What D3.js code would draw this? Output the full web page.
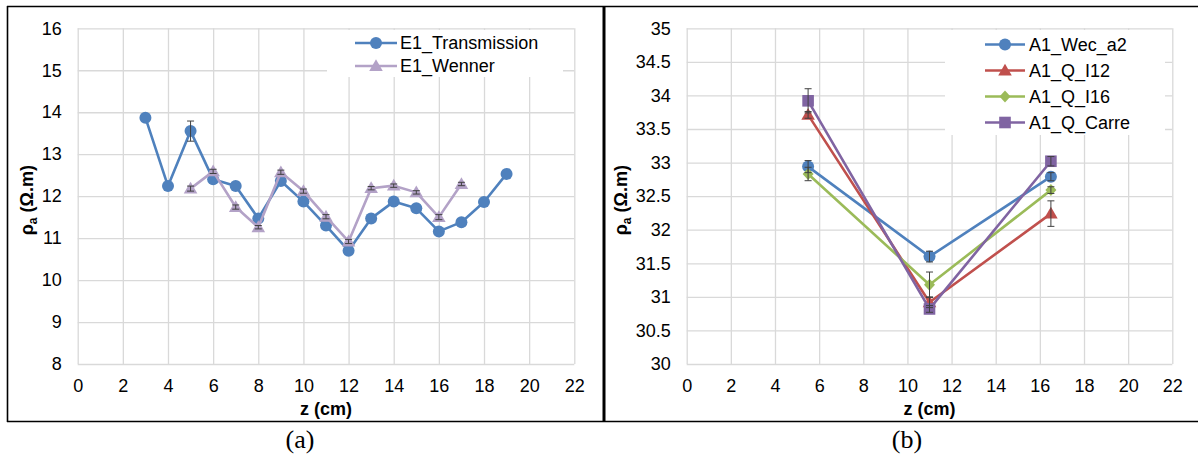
<!DOCTYPE html>
<html><head><meta charset="utf-8">
<script src="https://cdn.jsdelivr.net/npm/d3@7"></script>
<style>
html,body{margin:0;padding:0;background:#fff;}
text{font-family:"Liberation Sans",Arial,sans-serif;}
text.cap{font-family:"Liberation Serif","Times New Roman",serif;}
</style></head>
<body>
<svg id="c" width="1198" height="459"></svg>
<script>
// ---------- data ----------
const xTicks = [0,2,4,6,8,10,12,14,16,18,20,22];
const leftYTicks = [8,9,10,11,12,13,14,15,16];
const rightYTicks = [30,30.5,31,31.5,32,32.5,33,33.5,34,34.5,35];

const transZ = [3,4,5,6,7,8,9,10,11,12,13,14,15,16,17,18,19];
const transmission = [13.87,12.24,13.55,12.40,12.24,11.47,12.36,11.87,11.30,10.70,11.47,11.87,11.71,11.16,11.38,11.86,12.53];
const transErr = [0,0,0.24,0,0,0,0,0,0,0,0,0,0,0,0,0,0];

const wennerZ = [5,6,7,8,9,10,11,12,13,14,15,16,17];
const wenner = [12.18,12.59,11.74,11.26,12.57,12.12,11.51,10.92,12.19,12.25,12.09,11.50,12.29];
const wennerErr = [0.06,0.05,0.05,0.04,0.05,0.05,0.05,0.05,0.04,0.04,0.04,0.06,0.04];

const zRight = [5.5, 11, 16.5];
const wecA2 = [32.94, 31.60, 32.79];
const wecA2Err = [0.09, 0.08, 0.06];
const qI12 = [33.71, 30.92, 32.24];
const qI12Err = [0.05, 0.08, 0.19];
const qI16 = [32.83, 31.18, 32.59];
const qI16Err = [0.10, 0.19, 0.05];
const qCarre = [33.92, 30.82, 33.02];
const qCarreErr = [0.18, 0.05, 0.07];

const leftNames = ["E1_Transmission","E1_Wenner"];
const rightNames = ["A1_Wec_a2","A1_Q_I12","A1_Q_I16","A1_Q_Carre"];
const captions = ["(a)","(b)"];

// ---------- drawing ----------
const svg = d3.select("#c");
const FONT = 18;

function marker(g, type, color, cx, cy){
  if(type==="circle"){
    g.append("circle").attr("cx",cx).attr("cy",cy).attr("r",6).attr("fill",color);
  } else if(type==="triangle"){
    g.append("path").attr("d",d3.symbol(d3.symbolTriangle,80)()).attr("transform",`translate(${cx},${cy+1})`).attr("fill",color);
  } else if(type==="square"){
    g.append("rect").attr("x",cx-5.8).attr("y",cy-5.8).attr("width",11.6).attr("height",11.6).attr("fill",color);
  } else if(type==="diamond"){
    g.append("path").attr("d",`M${cx},${cy-6}L${cx+5.5},${cy}L${cx},${cy+6}L${cx-5.5},${cy}Z`).attr("fill",color);
  }
}

function panel(opts){
  const {x0,x1,y0,y1,yDomain,yTicks,series,legend} = opts;
  const x = d3.scaleLinear().domain([0,22]).range([x0,x1]);
  const y = d3.scaleLinear().domain(yDomain).range([y1,y0]);
  const g = svg.append("g");
  const W = x1-x0, H = y1-y0;

  const gx = g.append("g").attr("transform",`translate(0,${y1})`)
    .call(d3.axisBottom(x).tickValues(xTicks).tickSize(-H).tickSizeOuter(0).tickPadding(15.6).tickFormat(d=>d));
  const gy = g.append("g").attr("transform",`translate(${x0},0)`)
    .call(d3.axisLeft(y).tickValues(yTicks).tickSize(-W).tickSizeOuter(0).tickPadding(16).tickFormat(d=>d));
  [gx,gy].forEach(a=>{
    a.select(".domain").remove();
    a.selectAll(".tick line").attr("stroke","#d9d9d9").attr("stroke-width",1.3);
    a.selectAll(".tick text").attr("fill","#000").attr("font-size",FONT);
  });

  // legend background
  g.append("rect").attr("x",legend.bx0).attr("y",legend.by0).attr("width",legend.bx1-legend.bx0).attr("height",legend.by1-legend.by0).attr("fill","#fff");

  // series
  series.forEach(s=>{
    const pts = s.z.map((z,i)=>[x(z),y(s.v[i])]);
    g.append("path").attr("d",d3.line()(pts)).attr("fill","none").attr("stroke",s.color).attr("stroke-width",2.6).attr("stroke-linejoin","round");
    const mg = g.append("g");
    pts.forEach(p=>marker(mg,s.type,s.color,p[0],p[1]));
  });
  series.forEach(s=>{
    const eg = g.append("g").attr("stroke","#404040").attr("stroke-width",1);
    s.z.forEach((z,i)=>{
      const e = s.err[i]; if(!e) return;
      const cx = x(z), t = y(s.v[i]+e), b = y(s.v[i]-e);
      eg.append("line").attr("x1",cx).attr("x2",cx).attr("y1",t).attr("y2",b);
      eg.append("line").attr("x1",cx-3.5).attr("x2",cx+3.5).attr("y1",t).attr("y2",t);
      eg.append("line").attr("x1",cx-3.5).attr("x2",cx+3.5).attr("y1",b).attr("y2",b);
    });
  });

  // legend entries
  series.forEach((s,i)=>{
    const ly = legend.y + i*legend.dy;
    g.append("line").attr("x1",legend.lx0).attr("x2",legend.lx1).attr("y1",ly).attr("y2",ly).attr("stroke",s.color).attr("stroke-width",2.6);
    marker(g,s.type,s.color,(legend.lx0+legend.lx1)/2,ly);
    g.append("text").attr("x",legend.tx).attr("y",ly).attr("dy","0.35em").attr("font-size",FONT).attr("fill","#000").text(s.name);
  });

  // axis titles
  g.append("text").attr("x",(x0+x1)/2).attr("y",409).attr("dy","0.35em").attr("text-anchor","middle")
    .attr("font-size",FONT).attr("font-weight","bold").text("z (cm)");
  const yt = g.append("text").attr("transform",`translate(${opts.ytx},${(y0+y1)/2+4}) rotate(-90)`)
    .attr("text-anchor","middle").attr("font-size",FONT).attr("font-weight","bold");
  yt.append("tspan").text("ρ");
  yt.append("tspan").attr("font-size",12).attr("dy",4).text("a");
  yt.append("tspan").attr("dy",-4).text(" (Ω.m)");

  svg.append("text").attr("class","cap").attr("x",opts.capX).attr("y",448).attr("text-anchor","middle")
    .attr("font-size",26).attr("fill","#000").text(opts.caption);
}

panel({
  x0:77.7, x1:574.3, y0:28.3, y1:364, yDomain:[8,16], yTicks:leftYTicks, ytx:33, capX:300, caption:captions[0],
  series:[
    {name:leftNames[0], z:transZ, v:transmission, err:transErr, color:"#4f81bd", type:"circle"},
    {name:leftNames[1], z:wennerZ, v:wenner, err:wennerErr, color:"#b3a2c7", type:"triangle"}
  ],
  legend:{bx0:327,bx1:563,by0:30,by1:77,lx0:355,lx1:397,tx:400,y:43,dy:23}
});

panel({
  x0:686.7, x1:1172.3, y0:28.3, y1:364, yDomain:[30,35], yTicks:rightYTicks, ytx:627, capX:907, caption:captions[1],
  series:[
    {name:rightNames[0], z:zRight, v:wecA2, err:wecA2Err, color:"#4f81bd", type:"circle"},
    {name:rightNames[1], z:zRight, v:qI12, err:qI12Err, color:"#c0504d", type:"triangle"},
    {name:rightNames[2], z:zRight, v:qI16, err:qI16Err, color:"#9bbb59", type:"diamond"},
    {name:rightNames[3], z:zRight, v:qCarre, err:qCarreErr, color:"#8064a2", type:"square"}
  ],
  legend:{bx0:945,bx1:1165,by0:30,by1:135,lx0:985,lx1:1025,tx:1029,y:44.5,dy:26}
});

// frame
const fr = svg.append("g").attr("stroke","#000").attr("fill","none");
fr.append("line").attr("x1",7).attr("x2",1198).attr("y1",6.5).attr("y2",6.5).attr("stroke-width",1.6);
fr.append("line").attr("x1",7).attr("x2",1198).attr("y1",421.5).attr("y2",421.5).attr("stroke-width",1.6);
fr.append("line").attr("x1",7.5).attr("x2",7.5).attr("y1",6).attr("y2",422).attr("stroke-width",1.6);
fr.append("line").attr("x1",604).attr("x2",604).attr("y1",6).attr("y2",422).attr("stroke-width",3);
</script>
</body></html>
